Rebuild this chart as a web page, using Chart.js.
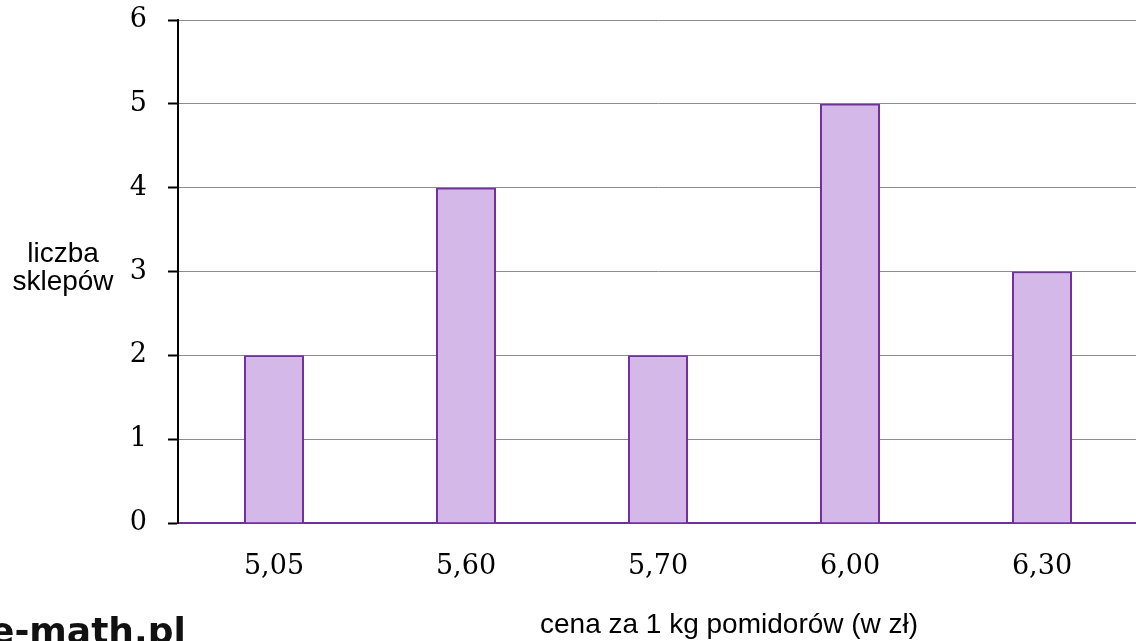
<!DOCTYPE html>
<html>
<head>
<meta charset="utf-8">
<script src="https://cdn.jsdelivr.net/npm/chart.js@4.4.1/dist/chart.umd.min.js"></script>
<style>
  html, body { margin: 0; padding: 0; background: #fff; overflow: hidden; }
  #wrap { position: relative; width: 1138px; height: 641px; }
</style>
</head>
<body>
<div id="wrap"><canvas id="c" width="1138" height="641"></canvas></div>
<script>
// Prices per kg and number of shops offering each price
const categories = ['5,05', '5,60', '5,70', '6,00', '6,30'];
const shopCounts = [2, 4, 2, 5, 3];
const yTicks = [0, 1, 2, 3, 4, 5, 6];

const yTitleLines = ['liczba', 'sklepów'];
const xTitle = 'cena za 1 kg pomidorów (w zł)';
const watermark = 'e-math.pl';

const serif = '"DejaVu Serif", "Liberation Serif", serif';
const sans = '"Liberation Sans", Arial, sans-serif';

const titlesPlugin = {
  id: 'titles',
  afterDraw(chart) {
    const ctx = chart.ctx;
    ctx.save();
    ctx.fillStyle = '#000';
    ctx.textBaseline = 'alphabetic';
    ctx.font = '28px ' + sans;
    ctx.textAlign = 'center';
    ctx.fillText(yTitleLines[0], 63, 262);
    ctx.fillText(yTitleLines[1], 63, 290);
    ctx.textAlign = 'left';
    ctx.fillText(xTitle, 540, 633);
    ctx.font = 'bold 36px "DejaVu Sans", sans-serif';
    ctx.fillStyle = '#111';
    ctx.fillText(watermark, -10, 643);
    ctx.restore();
  }
};

new Chart(document.getElementById('c'), {
  type: 'bar',
  data: {
    labels: categories,
    datasets: [{
      data: shopCounts,
      backgroundColor: '#D4B8E8',
      borderColor: '#7030A0',
      borderWidth: 2,
      borderSkipped: 'bottom',
      barPercentage: 0.3125,
      categoryPercentage: 1.0
    }]
  },
  options: {
    responsive: false,
    animation: false,
    layout: { padding: { top: 20, right: 0, left: 0, bottom: 0 } },
    plugins: { legend: { display: false }, tooltip: { enabled: false } },
    scales: {
      x: {
        grid: { display: false, drawTicks: false },
        border: { color: '#7030A0', width: 2 },
        ticks: {
          color: '#000',
          font: { family: serif, size: 27 },
          padding: 28
        },
        afterFit(scale) {
          scale.height = 118;
          scale.paddingLeft = 0;
          scale.paddingRight = 0;
        }
      },
      y: {
        min: 0,
        max: 6,
        afterBuildTicks(scale) { scale.ticks = yTicks.map(v => ({ value: v })); },
        grid: {
          color: '#8c8c8c',
          lineWidth: 1,
          tickLength: 10,
          tickColor: '#000',
          tickWidth: 2
        },
        border: { color: '#000', width: 2 },
        ticks: {
          color: '#000',
          font: { family: serif, size: 27 },
          padding: 21
        },
        afterFit(scale) {
          scale.width = 178;
          scale.paddingTop = 0;
          scale.paddingBottom = 0;
        }
      }
    }
  },
  plugins: [titlesPlugin]
});
</script>
</body>
</html>
